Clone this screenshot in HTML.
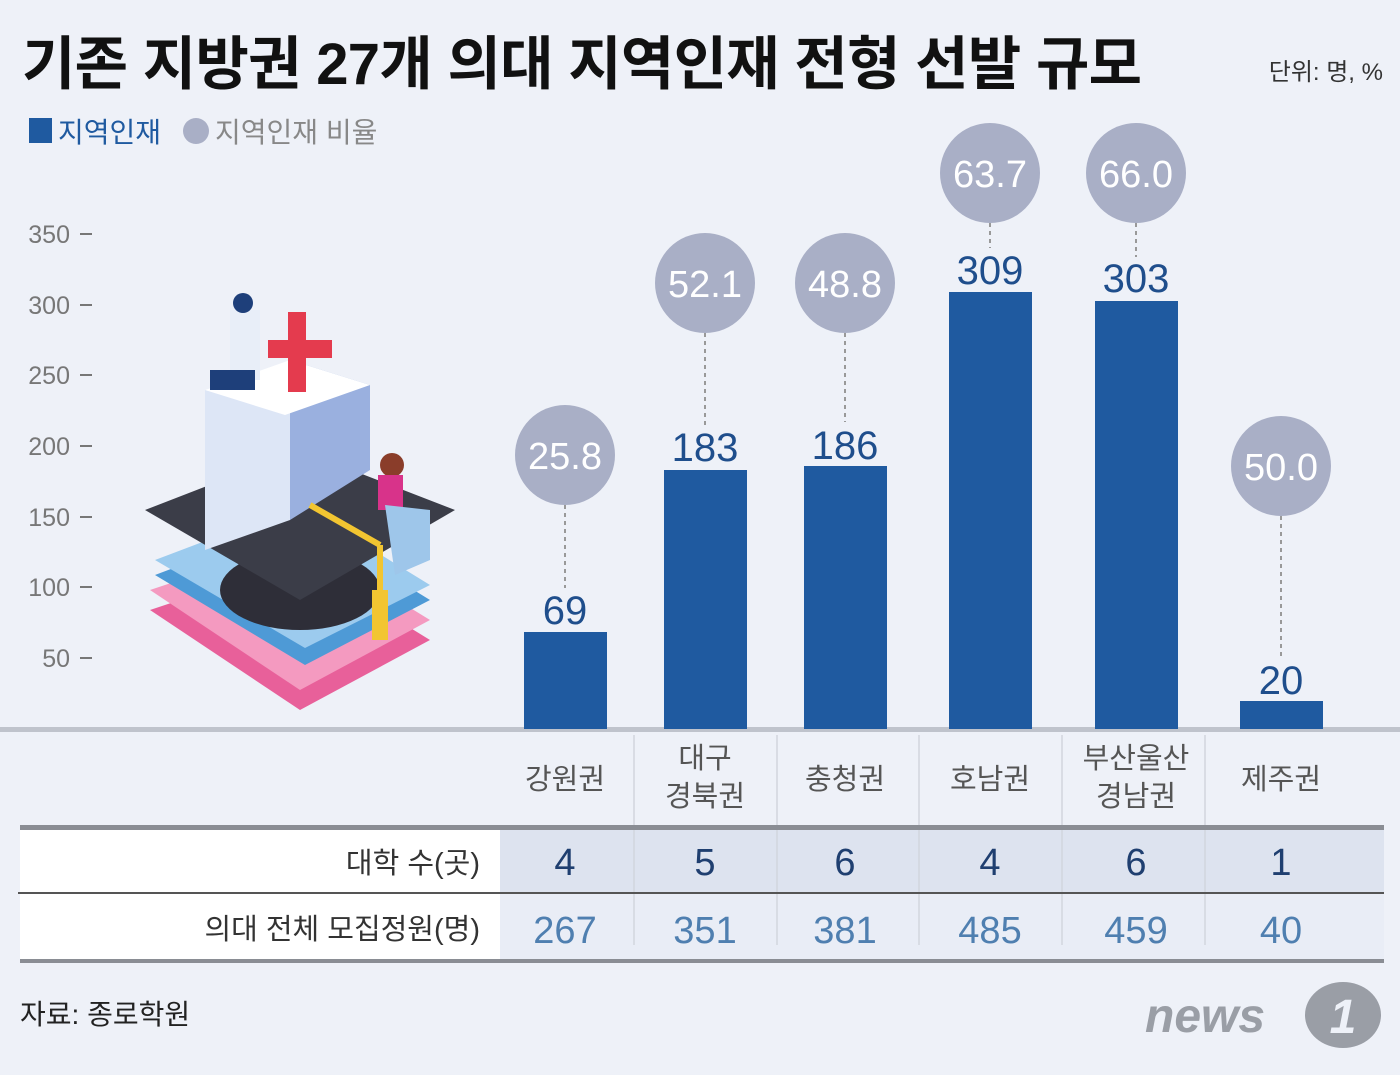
<!DOCTYPE html>
<html><head><meta charset="utf-8"><style>
body{margin:0;width:1400px;height:1070px;background:#eef1f8;overflow:hidden;font-family:"Liberation Sans","Noto Sans CJK KR",sans-serif}
</style></head><body>
<svg width="1400" height="1070" xmlns="http://www.w3.org/2000/svg" font-family="Liberation Sans, Noto Sans CJK KR, sans-serif">
<rect width="1400" height="1070" fill="#eef1f8"/>
<text x="22" y="84" font-size="58" font-weight="bold" fill="#111" transform="scale(1,1)" textLength="1120">기존 지방권 27개 의대 지역인재 전형 선발 규모</text>
<text x="1383" y="80" font-size="24" fill="#333" text-anchor="end">단위: 명, %</text>
<rect x="29" y="118" width="23" height="25" fill="#1f5aa0"/>
<text x="58" y="142" font-size="28" fill="#1f5aa0">지역인재</text>
<circle cx="196" cy="131" r="13" fill="#a9afc6"/>
<text x="215" y="142" font-size="28" fill="#888">지역인재 비율</text>
<g font-size="25" fill="#777" text-anchor="end">
<text x="70" y="243">350</text><text x="70" y="314">300</text><text x="70" y="384">250</text><text x="70" y="455">200</text><text x="70" y="526">150</text><text x="70" y="596">100</text><text x="70" y="667">50</text>
</g>
<g stroke="#777" stroke-width="2">
<line x1="80" y1="234" x2="92" y2="234"/><line x1="80" y1="305" x2="92" y2="305"/><line x1="80" y1="375" x2="92" y2="375"/><line x1="80" y1="446" x2="92" y2="446"/><line x1="80" y1="517" x2="92" y2="517"/><line x1="80" y1="587" x2="92" y2="587"/><line x1="80" y1="658" x2="92" y2="658"/>
</g>
<!-- illustration -->
<g>
<polygon points="150,610 300,560 430,640 300,710" fill="#e8609a"/>
<polygon points="150,590 300,540 430,620 300,690" fill="#f49ac0"/>
<polygon points="155,575 300,520 430,600 305,665" fill="#4e9ad6"/>
<polygon points="155,560 300,505 430,585 305,648" fill="#9ccbee"/>
<ellipse cx="300" cy="590" rx="80" ry="40" fill="#2e2e38"/>
<polygon points="145,510 300,450 455,510 300,600" fill="#3b3d48"/>
<polygon points="205,390 290,360 290,520 205,550" fill="#dde6f6"/>
<polygon points="290,360 370,385 370,470 290,520" fill="#9ab0df"/>
<polygon points="205,390 290,360 370,385 285,415" fill="#ffffff"/>
<rect x="288" y="312" width="18" height="80" fill="#e43b4e"/>
<rect x="268" y="340" width="64" height="18" fill="#e43b4e"/>
<rect x="230" y="310" width="30" height="70" fill="#e8eef8"/>
<circle cx="243" cy="303" r="10" fill="#1e3f7a"/>
<rect x="210" y="370" width="45" height="20" fill="#1e3f7a"/>
<line x1="310" y1="505" x2="380" y2="545" stroke="#f2c531" stroke-width="6"/>
<line x1="380" y1="545" x2="380" y2="620" stroke="#f2c531" stroke-width="6"/>
<rect x="372" y="590" width="16" height="50" fill="#f2c531"/>
<circle cx="392" cy="465" r="12" fill="#8a3d2a"/>
<rect x="378" y="475" width="25" height="35" fill="#d8338a"/>
<polygon points="385,505 430,510 430,560 395,575" fill="#9ec6ea"/>
</g>
<!-- baseline -->
<rect x="0" y="727" width="1400" height="5" fill="#bfc3cc"/>
<!-- bars -->
<g fill="#1f5aa0">
<rect x="524" y="632" width="83" height="97"/>
<rect x="664" y="470" width="83" height="259"/>
<rect x="804" y="466" width="83" height="263"/>
<rect x="949" y="292" width="83" height="437"/>
<rect x="1095" y="301" width="83" height="428"/>
<rect x="1240" y="701" width="83" height="28"/>
</g>
<g stroke="#999" stroke-width="2" stroke-dasharray="4,4">
<line x1="565" y1="505" x2="565" y2="588"/>
<line x1="705" y1="333" x2="705" y2="425"/>
<line x1="845" y1="333" x2="845" y2="422"/>
<line x1="990" y1="223" x2="990" y2="248"/>
<line x1="1136" y1="223" x2="1136" y2="257"/>
<line x1="1281" y1="516" x2="1281" y2="658"/>
</g>
<g fill="#a9afc6">
<circle cx="565" cy="455" r="50"/><circle cx="705" cy="283" r="50"/><circle cx="845" cy="283" r="50"/>
<circle cx="990" cy="173" r="50"/><circle cx="1136" cy="173" r="50"/><circle cx="1281" cy="466" r="50"/>
</g>
<g fill="#fff" font-size="38" text-anchor="middle">
<text x="565" y="469">25.8</text><text x="705" y="297">52.1</text><text x="845" y="297">48.8</text>
<text x="990" y="187">63.7</text><text x="1136" y="187">66.0</text><text x="1281" y="480">50.0</text>
</g>
<g fill="#1f4e8c" font-size="40" text-anchor="middle">
<text x="565" y="624">69</text><text x="705" y="461">183</text><text x="845" y="459">186</text>
<text x="990" y="284">309</text><text x="1136" y="292">303</text><text x="1281" y="694">20</text>
</g>
<!-- table -->
<rect x="20" y="829" width="480" height="131" fill="#fff"/>
<rect x="500" y="829" width="884" height="64" fill="#dde3ef"/>
<rect x="500" y="893" width="884" height="67" fill="#e9edf6"/>
<g stroke="#d2d6de" stroke-width="1.5">
<line x1="634" y1="735" x2="634" y2="945"/><line x1="777" y1="735" x2="777" y2="945"/><line x1="919" y1="735" x2="919" y2="945"/><line x1="1062" y1="735" x2="1062" y2="945"/><line x1="1205" y1="735" x2="1205" y2="945"/>
</g>
<rect x="20" y="825" width="1364" height="5" fill="#8a8d94"/>
<rect x="18" y="892" width="1366" height="2" fill="#555"/>
<rect x="20" y="959" width="1364" height="4" fill="#8a8d94"/>
<g fill="#555" font-size="29" text-anchor="middle">
<text x="565" y="789">강원권</text>
<text x="705" y="768">대구</text><text x="705" y="806">경북권</text>
<text x="845" y="789">충청권</text>
<text x="990" y="789">호남권</text>
<text x="1136" y="768">부산울산</text><text x="1136" y="806">경남권</text>
<text x="1281" y="789">제주권</text>
</g>
<g fill="#333" font-size="29" text-anchor="end">
<text x="480" y="873">대학 수(곳)</text><text x="480" y="939">의대 전체 모집정원(명)</text>
</g>
<g fill="#1f3f70" font-size="38" text-anchor="middle">
<text x="565" y="875">4</text><text x="705" y="875">5</text><text x="845" y="875">6</text><text x="990" y="875">4</text><text x="1136" y="875">6</text><text x="1281" y="875">1</text>
</g>
<g fill="#4f7fb0" font-size="38" text-anchor="middle">
<text x="565" y="943">267</text><text x="705" y="943">351</text><text x="845" y="943">381</text><text x="990" y="943">485</text><text x="1136" y="943">459</text><text x="1281" y="943">40</text>
</g>
<text x="20" y="1024" font-size="28" fill="#222">자료: 종로학원</text>
<text x="1145" y="1032" font-size="48" font-weight="bold" font-style="italic" fill="#9a9ea6">news</text>
<ellipse cx="1343" cy="1015" rx="38" ry="33" fill="#9a9ea6"/>
<text x="1343" y="1033" font-size="48" font-weight="bold" font-style="italic" fill="#eef1f8" text-anchor="middle">1</text>
</svg>
</body></html>
